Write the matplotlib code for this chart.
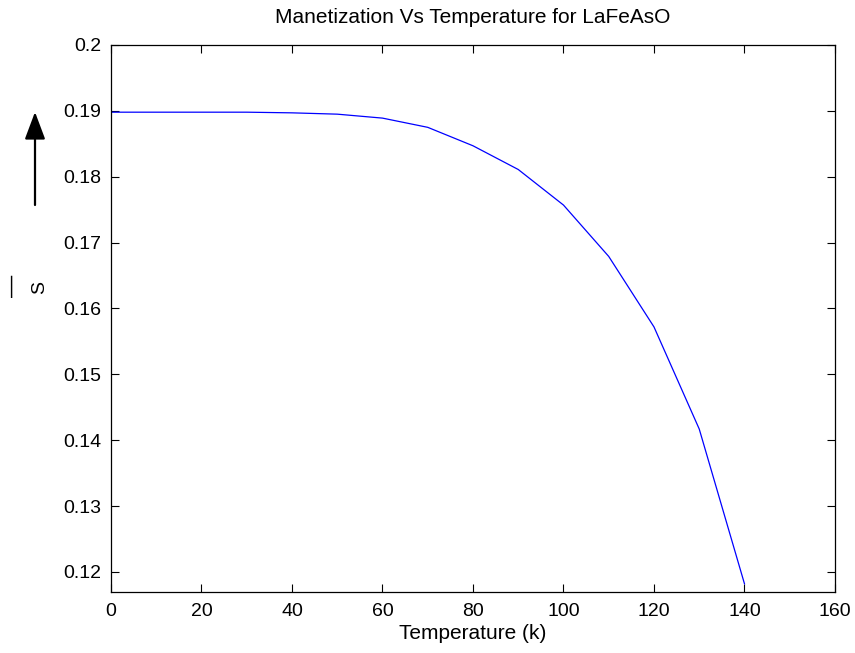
import matplotlib
matplotlib.use("Agg")
import matplotlib.pyplot as plt

plt.rcParams['font.family'] = ['Liberation Sans', 'DejaVu Sans']

# temperatura i magnetyzacja
temp = [0, 10, 20, 30, 40, 50, 60, 70, 80, 90, 100, 110, 120, 130, 140]
mag = [0.1898, 0.1898, 0.1898, 0.1898, 0.1897, 0.1895, 0.1889, 0.1875,
       0.1847, 0.1811, 0.1757, 0.1679, 0.1572, 0.1417, 0.1182]

xticks = list(range(0, 161, 20))
yticks = [0.12, 0.13, 0.14, 0.15, 0.16, 0.17, 0.18, 0.19, 0.2]
ytick_labels = ['0.12', '0.13', '0.14', '0.15', '0.16', '0.17', '0.18', '0.19', '0.2']

fig = plt.figure(figsize=(8.55, 6.53), dpi=100)
ax = fig.add_axes([0.1298, 0.0934, 0.8468, 0.8377])

ax.plot(temp, mag, color='blue', lw=0.9)

ax.set_xlim(0, 160)
ax.set_ylim(0.11696, 0.2)
ax.set_xticks(xticks)
ax.set_yticks(yticks)
ax.set_yticklabels(ytick_labels)
ax.tick_params(direction='in', length=6, width=0.8, top=True, right=True,
               labelsize=14)
ax.tick_params(axis='x', pad=8)
ax.tick_params(axis='y', pad=7)
for s in ax.spines.values():
    s.set_linewidth(0.9)

ax.set_xlabel("Temperature (k)", fontsize=15, labelpad=3)
ax.set_title("Manetization Vs Temperature for LaFeAsO", fontsize=15, pad=16)

# etykieta osi y: S z kreska i strzalka
fig.text(40 / 855, 1 - 288 / 653, "S", rotation=90, fontsize=14,
         ha='center', va='center')
fig.text(12 / 855, 1 - 286 / 653, "\u2014", rotation=90, fontsize=16,
         ha='center', va='center')
ax.annotate("", xy=(35, 653 - 112), xycoords='figure pixels',
            xytext=(35, 653 - 205), textcoords='figure pixels',
            arrowprops=dict(arrowstyle='-|>,head_length=1.2,head_width=0.45',
                            color='black', lw=1.6, mutation_scale=14,
                            shrinkA=0, shrinkB=0))

fig.savefig("out.png", dpi=100)
